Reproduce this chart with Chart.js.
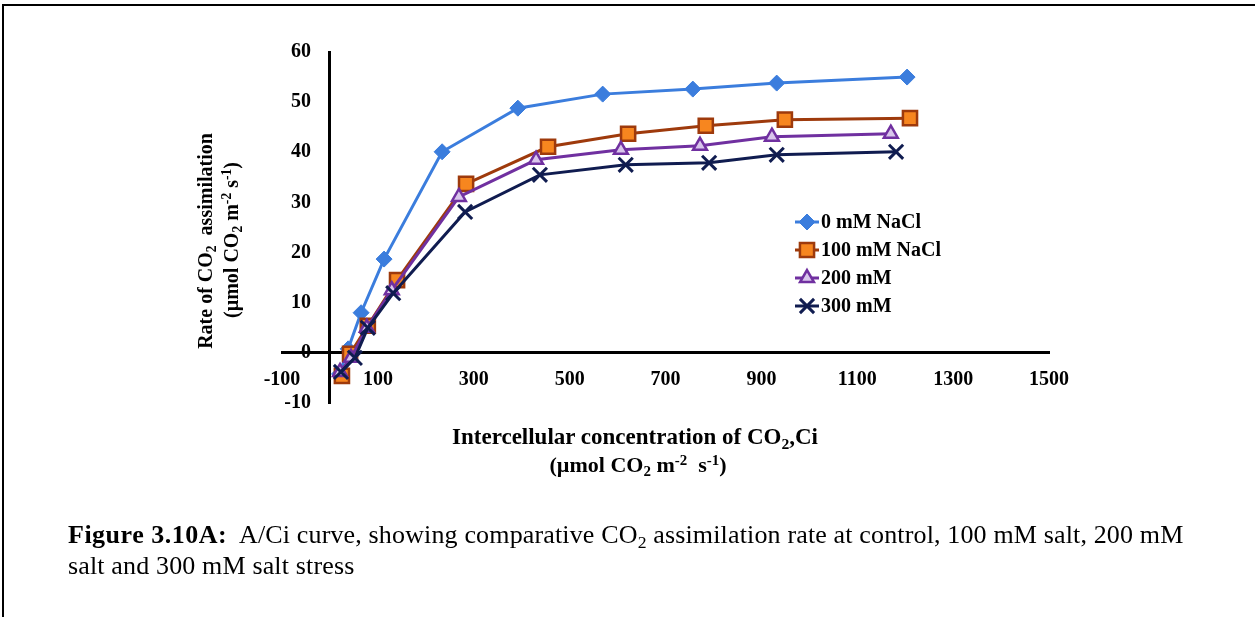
<!DOCTYPE html>
<html><head><meta charset="utf-8">
<script src="https://cdn.jsdelivr.net/npm/chart.js@4.4.0/dist/chart.umd.min.js"></script>
<style>
html,body{margin:0;padding:0;background:#fff;}
#wrap{position:relative;width:1255px;height:617px;overflow:hidden;font-family:"Liberation Serif","Times New Roman",serif;color:#000;background:#fff;}
#frame{position:absolute;left:2px;top:4px;width:1270px;height:640px;border-top:2px solid #000;border-left:2px solid #000;}
canvas{position:absolute;left:0;top:0;}
.t{position:absolute;white-space:nowrap;font-weight:bold;}
sub.s{font-size:0.68em;vertical-align:-0.3em;line-height:0;}
sup.s{font-size:0.68em;vertical-align:0.45em;line-height:0;}
#xt1{left:635px;top:437px;font-size:23px;transform:translate(-50%,-50%);}
#xt2{left:638px;top:465px;font-size:22px;transform:translate(-50%,-50%);}
#yt1{left:205px;top:241px;font-size:20px;transform:translate(-50%,-50%) rotate(-90deg);}
#yt2{left:231px;top:240px;font-size:20px;transform:translate(-50%,-50%) rotate(-90deg);}
#cap{position:absolute;left:68px;top:519px;font-size:26px;line-height:31px;white-space:nowrap;letter-spacing:0.15px;}
#cap b{letter-spacing:0.5px;}
</style>
</head><body>
<div id="wrap">
<canvas id="c" width="1255" height="617"></canvas>
<div id="frame"></div>
<div class="t" id="yt1">Rate of CO<sub class="s">2</sub>&nbsp; assimilation</div>
<div class="t" id="yt2">(µmol CO<sub class="s">2</sub> m<sup class="s">-2</sup> s<sup class="s">-1</sup>)</div>
<div class="t" id="xt1">Intercellular concentration of CO<sub class="s">2</sub>,Ci</div>
<div class="t" id="xt2">(µmol CO<sub class="s">2</sub> m<sup class="s">-2</sup>&nbsp; s<sup class="s">-1</sup>)</div>
<div id="cap"><b>Figure 3.10A:</b>&nbsp; A/Ci curve, showing comparative CO<sub class="s">2</sub> assimilation rate at control, 100 mM salt, 200 mM<br>salt and 300 mM salt stress</div>
</div>
<script>
// ---- data ----
const seriesNames = ['0 mM NaCl', '100 mM NaCl', '200 mM', '300 mM'];
const ci_0mM   = [20, 38, 65, 113, 234, 392, 569, 757, 932, 1204];
const a_0mM    = [-4.2, 0.8, 8.0, 18.7, 40.1, 48.8, 51.6, 52.6, 53.8, 55.0];
const ci_100mM = [25, 42, 79, 140, 284, 455, 622, 784, 949, 1210];
const a_100mM  = [-4.6, -0.2, 5.4, 14.5, 33.7, 41.1, 43.7, 45.3, 46.5, 46.8];
const ci_200mM = [21, 44, 77, 129, 269, 430, 607, 772, 922, 1170];
const a_200mM  = [-3.8, -1.0, 5.0, 12.5, 31.1, 38.5, 40.5, 41.3, 43.1, 43.7];
const ci_300mM = [23, 52, 79, 132, 282, 438, 617, 791, 932, 1181];
const a_300mM  = [-3.8, -1.0, 5.0, 11.9, 28.1, 35.5, 37.5, 37.9, 39.5, 40.1];
const xTicks = [-100, 100, 300, 500, 700, 900, 1100, 1300, 1500];
const yTicks = [-10, 0, 10, 20, 30, 40, 50, 60];

const pts = (xs, ys) => xs.map((x, i) => ({x: x, y: ys[i]}));
const FONT = '"Liberation Serif", "Times New Roman", serif';

const legendPlugin = {
  id: 'inlineLegend',
  afterDraw(chart) {
    const ctx = chart.ctx, ca = chart.chartArea;
    const x0 = ca.left + 513, y0 = ca.top + 170, dy = 28;
    chart.data.datasets.forEach((ds, i) => {
      const y = y0 + i * dy;
      ctx.save();
      ctx.strokeStyle = ds.borderColor; ctx.lineWidth = ds.borderWidth;
      ctx.beginPath(); ctx.moveTo(x0, y); ctx.lineTo(x0 + 24, y); ctx.stroke();
      ctx.fillStyle = ds.pointBackgroundColor; ctx.strokeStyle = ds.pointBorderColor;
      ctx.lineWidth = ds.pointBorderWidth;
      Chart.helpers.drawPoint(ctx, {pointStyle: ds.pointStyle, radius: ds.pointRadius, rotation: 0, borderWidth: ds.pointBorderWidth}, x0 + 12, y);
      ctx.fillStyle = '#000'; ctx.font = 'bold 20px ' + FONT;
      ctx.textBaseline = 'middle'; ctx.textAlign = 'left';
      ctx.fillText(ds.label, x0 + 26, y + 1);
      ctx.restore();
    });
  }
};

new Chart(document.getElementById('c'), {
  type: 'line',
  data: {
    datasets: [
      {label: seriesNames[0], data: pts(ci_0mM, a_0mM), order: 4,
       borderColor: '#3B7DDD', backgroundColor: '#3B7DDD', borderWidth: 3,
       pointStyle: 'rectRot', pointRadius: 8, pointBackgroundColor: '#3B7DDD', pointBorderColor: '#3B7DDD', pointBorderWidth: 1},
      {label: seriesNames[1], data: pts(ci_100mM, a_100mM), order: 3,
       borderColor: '#9E3A0C', backgroundColor: '#F7861F', borderWidth: 3,
       pointStyle: 'rect', pointRadius: 10, pointBackgroundColor: '#F7861F', pointBorderColor: '#9E3A0C', pointBorderWidth: 2.5},
      {label: seriesNames[2], data: pts(ci_200mM, a_200mM), order: 2,
       borderColor: '#7030A0', backgroundColor: '#D9C6EC', borderWidth: 3,
       pointStyle: 'triangle', pointRadius: 8, pointBackgroundColor: '#D9C6EC', pointBorderColor: '#7030A0', pointBorderWidth: 2.5},
      {label: seriesNames[3], data: pts(ci_300mM, a_300mM), order: 1,
       borderColor: '#101C50', backgroundColor: '#101C50', borderWidth: 3,
       pointStyle: 'crossRot', pointRadius: 10, pointBackgroundColor: '#101C50', pointBorderColor: '#101C50', pointBorderWidth: 3}
    ]
  },
  options: {
    responsive: false,
    animation: false,
    events: [],
    layout: {padding: {left: 282, right: 206, top: 52, bottom: 214}},
    elements: {line: {tension: 0, fill: false}},
    plugins: {legend: {display: false}, tooltip: {enabled: false}, title: {display: false}},
    scales: {
      x: {
        type: 'linear', min: -100, max: 1500,
        position: {y: 0},
        afterBuildTicks: s => { s.ticks = xTicks.map(v => ({value: v})); },
        grid: {display: false, drawTicks: false},
        border: {display: true, color: '#000', width: 3},
        ticks: {padding: 15, color: '#000', font: {family: FONT, size: 20, weight: 'bold'}, maxRotation: 0, autoSkip: false,
                callback: v => String(v)}
      },
      y: {
        type: 'linear', min: -10, max: 60,
        position: {x: 0},
        afterBuildTicks: s => { s.ticks = yTicks.map(v => ({value: v})); },
        grid: {display: false, drawTicks: false},
        border: {display: true, color: '#000', width: 3},
        ticks: {padding: 0, color: '#000', font: {family: FONT, size: 20, weight: 'bold'}, autoSkip: false,
                callback: v => String(v) + '   \u2009'}
      }
    }
  },
  plugins: [legendPlugin]
});
</script>
</body></html>
